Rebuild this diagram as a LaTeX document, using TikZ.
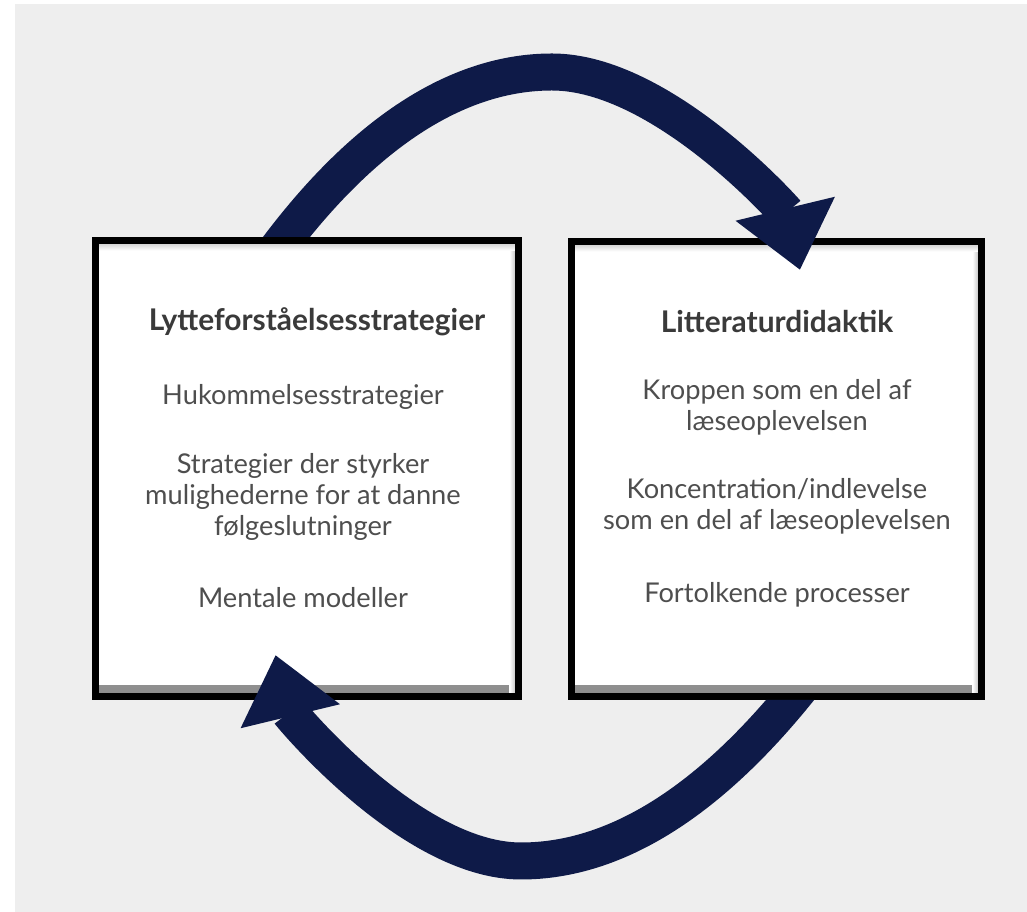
\documentclass[tikz,border=0pt]{standalone}
\usepackage{fontspec}
\setmainfont{Lato}
\usetikzlibrary{arrows.meta}
\definecolor{navy}{RGB}{14,26,72}
\definecolor{bggray}{RGB}{238,238,238}
\definecolor{ink}{RGB}{58,58,58}

\begin{document}
\begin{tikzpicture}[x=0.2mm,y=0.2mm,
  panel/.style={draw=black, line width=1.4mm, fill=white, inner sep=0pt,
    path picture={
      \shade[top color=white, bottom color=black!45] ([yshift=2.2mm]path picture bounding box.south west) rectangle (path picture bounding box.south east);
      \shade[left color=white, right color=black!35] ([xshift=-1.8mm]path picture bounding box.north east) rectangle (path picture bounding box.south east);
      \shade[top color=black!25, bottom color=white] (path picture bounding box.north west) rectangle ([yshift=-2mm]path picture bounding box.north east);
    }},
  head/.style={text=ink, font=\fontsize{17}{20}\selectfont\bfseries},
  item/.style={text=ink!90, align=center, font=\fontsize{15.5}{17.5}\selectfont},
  flow/.style={draw=navy, line width=7.4mm, -{Triangle[length=12.6mm,width=19.6mm]}}]
\useasboundingbox (0,0) rectangle (1027,912);
\fill[white] (0,0) rectangle (1027,912);
\fill[bggray] (15,0) rectangle (1027,908);
\coordinate (nw) at (0,912);
\coordinate (se) at (1027,0);
\coordinate (apex) at (552,840);
\coordinate (nadir) at (521,51);

% the two boxes
\node[panel, minimum width=84.6mm, minimum height=91.2mm] (lyt) at (307,443.5) {};
\node[panel, minimum width=82mm, minimum height=91mm] (lit) at (776.5,443) {};

\node[head] (lythead) at (317,590) {Lytteforståelsesstrategier};
\node[item] (huk) at (303,515) {Hukommelsesstrategier};
\node[item] (strat) at (303,415) {Strategier der styrker\\mulighederne for at danne\\følgeslutninger};
\node[item] (ment) at (303,314) {Mentale modeller};

\node[head] (lithead) at (777,590) {Litteraturdidaktik};
\node[item] (krop) at (777,505) {Kroppen som en del af\\læseoplevelsen};
\node[item] (konc) at (777,406) {Koncentration/indlevelse\\som en del af læseoplevelsen};
\node[item] (fort) at (777,317) {Fortolkende processer};

% arrows, tails cut off at the box they leave
\begin{scope}
\clip (nw) -| (se) -| (lyt.north east) -- (lyt.north west) -| (nw);
\draw[flow] ([xshift=-7.6mm,yshift=-4.6mm]lyt.north) .. controls (362,780) and (458,840) .. (apex)
  .. controls (662,840) and (786,700) .. ([xshift=4.7mm,yshift=-6.4mm]lit.north);
\end{scope}
\begin{scope}
\clip (nw) -| (lit.south west) -| (se) -| (nw);
\draw[flow] ([xshift=5.5mm,yshift=3.4mm]lit.south) .. controls (710,110) and (615,51) .. (nadir)
  .. controls (411,51) and (289.5,199) .. ([xshift=-6.3mm,yshift=9mm]lyt.south);
\end{scope}
\end{tikzpicture}
\end{document}
